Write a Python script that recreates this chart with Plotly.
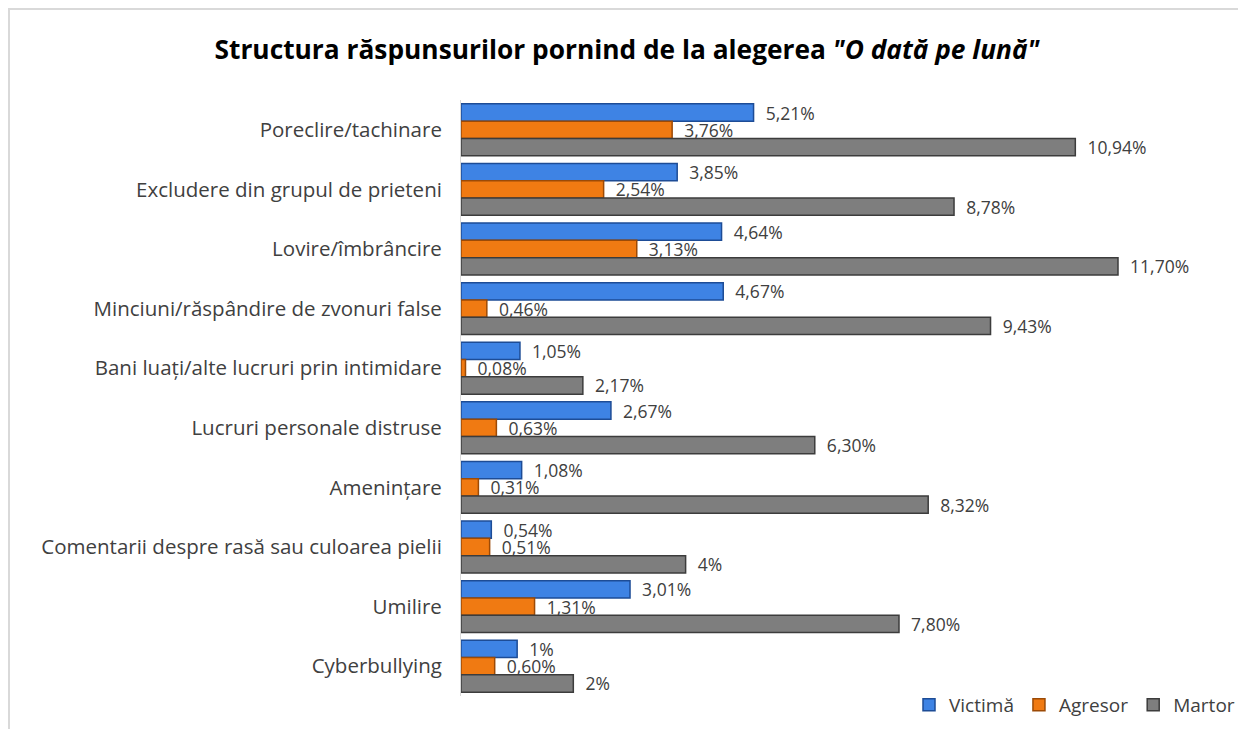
import plotly.graph_objects as go

categories = [
    "Poreclire/tachinare",
    "Excludere din grupul de prieteni",
    "Lovire/îmbrâncire",
    "Minciuni/răspândire de zvonuri false",
    "Bani luați/alte lucruri prin intimidare",
    "Lucruri personale distruse",
    "Amenințare",
    "Comentarii despre rasă sau culoarea pielii",
    "Umilire",
    "Cyberbullying",
]
victima = [5.21, 3.85, 4.64, 4.67, 1.05, 2.67, 1.08, 0.54, 3.01, 1.00]
agresor = [3.76, 2.54, 3.13, 0.46, 0.08, 0.63, 0.31, 0.51, 1.31, 0.60]
martor = [10.94, 8.78, 11.70, 9.43, 2.17, 6.30, 8.32, 4.00, 7.80, 2.00]
series_names = ["Victimă", "Agresor", "Martor"]


def fmt(v):
    if abs(v - round(v)) < 1e-9:
        return "%d%%" % round(v)
    return ("%.2f%%" % v).replace(".", ",")


FONT = "Open Sans, Noto Sans, sans-serif"
fills = ["#3e83e4", "#f07a12", "#7e7e7e"]
edges = ["#1d4c96", "#9c4a06", "#3c3c3c"]

# page offset (body margin) compensation: screen coords -> figure coords
O = 8
W, H = 1246 - O, 729 - O
SL, SR, ST, SB = 461, 1191, 100, 696  # plot area in screen coords
L = SL - O
T = ST - O
R = W - (SR - O)
B = H - (SB - O)
pw = SR - SL
ph = SB - ST


def px(x):
    return (x - SL) / pw


def py(y):
    return (SB - y) / ph


fig = go.Figure()
for name, vals, fc, ec in zip(series_names, [victima, agresor, martor], fills, edges):
    fig.add_trace(go.Bar(
        y=categories, x=vals, name=name, orientation="h",
        marker=dict(color=fc, line=dict(color=ec, width=1.5)),
        text=["  " + fmt(v) for v in vals], textposition="outside",
        textfont=dict(family=FONT, size=17.5, color="#404040"),
        constraintext="none",
        cliponaxis=False,
    ))

fig.update_layout(
    width=W, height=H,
    margin=dict(l=L, r=R, t=T, b=B, autoexpand=False),
    paper_bgcolor="white", plot_bgcolor="white",
    barmode="group", bargap=0.13, bargroupgap=0,
    title=dict(
        text="<b>Structura răspunsurilor pornind de la alegerea <i>\"O dată pe lună\"</i></b>",
        x=(627 - O) / W, xref="container", xanchor="center",
        y=1 - (50 - O) / H, yref="container", yanchor="middle",
        font=dict(family=FONT, size=26.3, color="#000000"),
    ),
    xaxis=dict(range=[0, 13], visible=False, showgrid=False, zeroline=False),
    yaxis=dict(
        autorange="reversed", showgrid=False, zeroline=False,
        showline=True, linecolor="#d9d9d9", linewidth=1,
        ticks="", ticklabelstandoff=14,
        tickfont=dict(family=FONT, size=20.5, color="#404040"),
    ),
    legend=dict(
        orientation="h", x=px(1240), xanchor="right", y=py(705), yanchor="middle",
        font=dict(family=FONT, size=19, color="#404040"),
        itemwidth=30, traceorder="normal", bgcolor="rgba(0,0,0,0)",
    ),
    showlegend=True,
    shapes=[
        dict(type="line", xref="paper", yref="paper", x0=px(8), x1=px(1300), y0=py(9), y1=py(9),
             line=dict(color="#d9d9d9", width=2)),
        dict(type="line", xref="paper", yref="paper", x0=px(9), x1=px(9), y0=py(9), y1=py(760),
             line=dict(color="#d9d9d9", width=2)),
    ],
)

fig.write_html("out.html")
